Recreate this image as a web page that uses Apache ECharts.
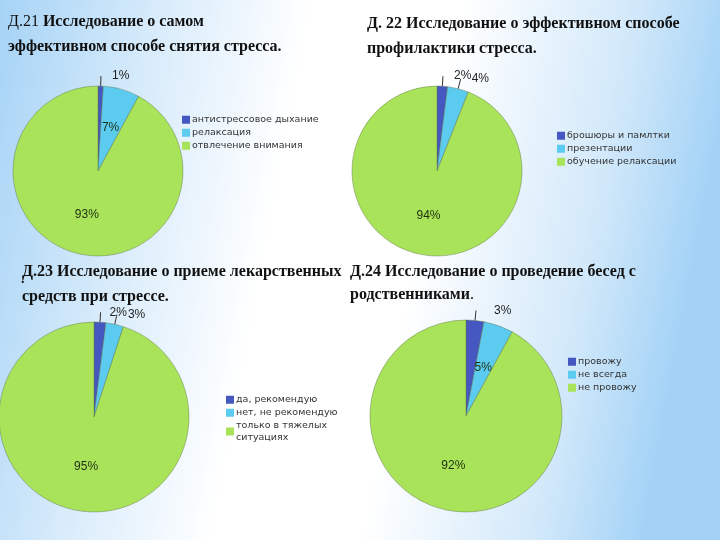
<!DOCTYPE html>
<html><head><meta charset="utf-8">
<script src="https://cdn.jsdelivr.net/npm/echarts@6/dist/echarts.min.js"></script>
<style>html,body{margin:0;padding:0;}#c{width:720px;height:540px;}</style>
</head><body><div id="c"></div>
<script>
// Data
const names1 = ['антистрессовое дыхание', 'релаксация', 'отвлечение внимания'];
const values1 = [1, 7, 93];
const names2 = ['брошюры и памлтки', 'презентации', 'обучение релаксации'];
const values2 = [2, 4, 94];
const names3 = ['да, рекомендую', 'нет, не рекомендую', 'только в тяжелых ситуациях'];
const values3 = [2, 3, 95];
const names4 = ['провожу', 'не всегда', 'не провожу'];
const values4 = [3, 5, 92];
// which labels are drawn outside the pie (gap between leader line and text; 0 = inside)
const outside1 = [11, 0, 0];
const outside2 = [11, 11, 0];
const outside3 = [9, 11, 0];
const outside4 = [18, 0, 0];

const colors = ['#4558c2', '#5ccbf0', '#a9e35a'];

function mkData(names, values, outside) {
  return names.map((n, i) => ({
    name: n, value: values[i],
    label: outside[i] ? {position: 'outside', color: '#222', distanceToLabelLine: outside[i]} : {position: 'inside', color: '#1f2f10'},
    labelLine: {show: !!outside[i]}
  }));
}

function pie(center, radius, names, values, outside) {
  return {
    type: 'pie', center: center, radius: radius, startAngle: 90, clockwise: true,
    avoidLabelOverlap: false, animation: false,
    color: colors,
    itemStyle: {borderColor: 'rgba(90,110,70,0.7)', borderWidth: 0.6},
    label: {formatter: '{c}%', fontFamily: 'Liberation Sans', fontSize: 12},
    labelLine: {length: 10, length2: 0, lineStyle: {color: '#333', width: 1}},
    labelLayout: {hideOverlap: false, moveOverlap: null},
    emphasis: {disabled: true},
    data: mkData(names, values, outside)
  };
}

function legend(names, left, top) {
  return {
    data: names, orient: 'vertical', left: left, top: top, padding: 0,
    icon: 'rect', itemWidth: 8, itemHeight: 8, itemGap: 1.5,
    itemStyle: {borderWidth: 0},
    textStyle: {fontFamily: 'DejaVu Sans', fontSize: 9.5, color: '#333', lineHeight: 11.5, padding: [0, 0, 0, -3]},
    formatter: function (n) { return n === 'только в тяжелых ситуациях' ? 'только в тяжелых\nситуациях' : n; },
    selectedMode: false
  };
}

const titleRich = {
  r: {fontFamily: 'Liberation Serif', fontSize: 16, fontWeight: 'normal', color: '#111', lineHeight: 25},
  b: {fontFamily: 'Liberation Serif', fontSize: 16, fontWeight: 'bold', color: '#111', lineHeight: 25}
};
const titleRich4 = {
  r: {fontFamily: 'Liberation Serif', fontSize: 16, fontWeight: 'normal', color: '#111', lineHeight: 23},
  b: {fontFamily: 'Liberation Serif', fontSize: 16, fontWeight: 'bold', color: '#111', lineHeight: 23}
};

const chart = echarts.init(document.getElementById('c'));
chart.setOption({
  backgroundColor: {
    type: 'linear', x: 0, y: 0, x2: 1, y2: 0.25,
    colorStops: [
      {offset: 0, color: '#a6d3f6'},
      {offset: 0.22, color: '#d9ecfb'},
      {offset: 0.42, color: '#ffffff'},
      {offset: 0.62, color: '#ffffff'},
      {offset: 0.85, color: '#d3e9fa'},
      {offset: 1, color: '#a3d2f6'}
    ]
  },
  title: [
    {text: '{r|Д.21 }{b|Исследование о самом}\n{b|эффективном способе снятия стресса.}', left: 3, top: 4, textStyle: {rich: titleRich}},
    {text: '{b|Д. 22 Исследование о эффективном способе}\n{b|профилактики стресса.}', left: 362, top: 6, textStyle: {rich: titleRich}},
    {text: '{b|Д.23 Исследование о приеме лекарственных}\n{b|средств при стрессе.}', left: 17, top: 254, textStyle: {rich: titleRich}},
    {text: '{b|Д.24 Исследование о проведение бесед с}\n{b|родственниками}{r|.}', left: 345, top: 255, textStyle: {rich: titleRich4}}
  ],
  graphic: [
    {type: 'text', left: 21, top: 272, style: {text: '.', font: 'bold 14px "Liberation Serif"', fill: '#111'}}
  ],
  legend: [
    legend(names1, 182, 114),
    legend(names2, 557, 130),
    legend(names3, 226, 394),
    legend(names4, 568, 356)
  ],
  series: [
    pie([98, 171], 85, names1, values1, outside1),
    pie([437, 171], 85, names2, values2, outside2),
    pie([94, 417], 95, names3, values3, outside3),
    pie([466, 416], 96, names4, values4, outside4)
  ]
});
</script></body></html>
